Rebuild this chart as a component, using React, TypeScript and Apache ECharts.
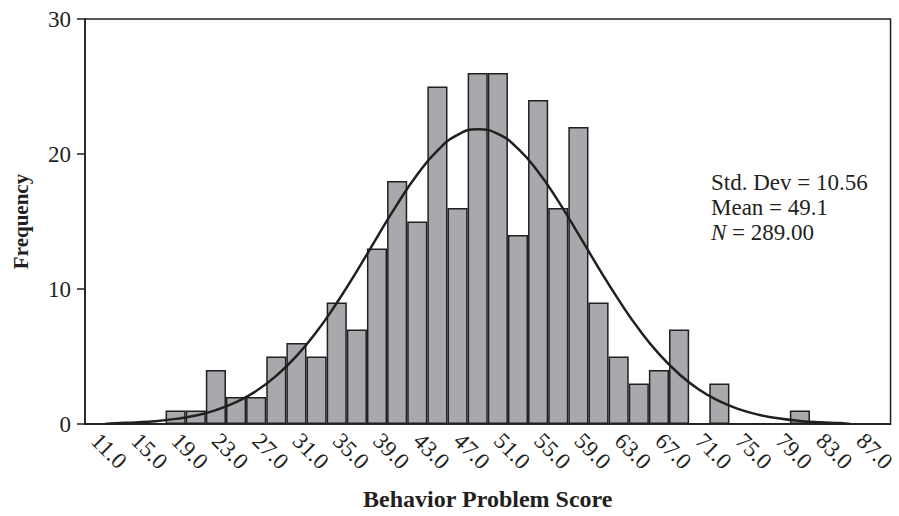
import React, { useEffect, useRef } from "react";
import * as echarts from "echarts";

// Bin midpoints (bin width 2)
const binMids = [11, 13, 15, 17, 19, 21, 23, 25, 27, 29, 31, 33, 35, 37, 39, 41, 43, 45, 47, 49, 51, 53, 55, 57, 59, 61, 63, 65, 67, 69, 71, 73, 75, 77, 79, 81, 83, 85, 87, 89];
const binLabels = binMids.map((v) => v.toFixed(1));
const frequencies = [0, 0, 0, 0, 1, 1, 4, 2, 2, 5, 6, 5, 9, 7, 13, 18, 15, 25, 16, 26, 26, 14, 24, 16, 22, 9, 5, 3, 4, 7, 0, 3, 0, 0, 0, 1, 0, 0, 0, 0];

// Fitted normal curve
const curveX = [12, 13, 15, 17, 19, 21, 23, 25, 27, 29, 31, 33, 35, 37, 39, 41, 43, 45, 47, 49, 51, 53, 55, 57, 59, 61, 63, 65, 67, 69, 71, 73, 75, 77, 79, 81, 83, 85, 86];
const curveY = [0.0, 0.06, 0.12, 0.21, 0.38, 0.63, 1.03, 1.62, 2.44, 3.57, 5.03, 6.83, 8.96, 11.33, 13.83, 16.27, 18.48, 20.25, 21.41, 21.84, 21.49, 20.4, 18.68, 16.51, 14.07, 11.57, 9.19, 7.03, 5.19, 3.7, 2.54, 1.69, 1.08, 0.67, 0.4, 0.23, 0.13, 0.07, 0.0];

const yTicks = [0, 10, 20, 30];
const statLines = ["Std. Dev = 10.56", "Mean = 49.1", "= 289.00"];

const INK = "#231f20";
const FONT = "'Liberation Serif', 'Times New Roman', serif";

export default function App() {
  const ref = useRef<HTMLDivElement>(null);
  useEffect(() => {
    if (!ref.current) return;
    const chart = echarts.init(ref.current, null, { renderer: "svg" });
    chart.setOption({
      animation: false,
      backgroundColor: "#ffffff",
      grid: {
        left: 85,
        right: 4,
        top: 19,
        bottom: 87,
        show: true,
        borderColor: INK,
        borderWidth: 1.5,
        backgroundColor: "transparent",
      },
      xAxis: [
        {
          type: "category",
          data: binLabels,
          boundaryGap: true,
          name: "Behavior Problem Score",
          nameLocation: "middle",
          nameGap: 63,
          nameTextStyle: { fontFamily: FONT, fontWeight: "bold", fontSize: 24, color: INK },
          axisLine: { lineStyle: { color: INK, width: 1.5 } },
          axisTick: { alignWithLabel: true, interval: 0, length: 7, lineStyle: { color: INK, width: 1.5 } },
          axisLabel: {
            interval: 1,
            rotate: -45,
            margin: 13,
            fontFamily: FONT,
            fontSize: 23,
            color: INK,
          },
          splitLine: { show: false },
        },
        {
          type: "value",
          min: 10,
          max: 90,
          show: false,
        },
      ],
      yAxis: {
        type: "value",
        min: yTicks[0],
        max: yTicks[yTicks.length - 1],
        interval: 10,
        name: "Frequency",
        nameLocation: "middle",
        nameGap: 54,
        nameRotate: 90,
        nameTextStyle: { fontFamily: FONT, fontWeight: "bold", fontSize: 21, color: INK },
        axisLine: { show: true, lineStyle: { color: INK, width: 1.5 } },
        axisTick: { show: true, length: 8, lineStyle: { color: INK, width: 1.5 } },
        axisLabel: { fontFamily: FONT, fontSize: 23, color: INK, margin: 14 },
        splitLine: { show: false },
      },
      series: [
        {
          type: "bar",
          data: frequencies,
          barCategoryGap: "0%",
          itemStyle: { color: "#a7a9ac", borderColor: INK, borderWidth: 1.5 },
        },
        {
          type: "line",
          xAxisIndex: 1,
          data: curveX.map((x, i) => [x, curveY[i]]),
          smooth: true,
          showSymbol: false,
          lineStyle: { color: INK, width: 2.5 },
          z: 5,
        },
      ],
      graphic: [
        {
          type: "text",
          left: 711,
          top: 170,
          style: {
            text: `${statLines[0]}\n${statLines[1]}\n{i|N} ${statLines[2]}`,
            fontFamily: FONT,
            fontSize: 23,
            lineHeight: 25,
            fill: INK,
            rich: {
              i: { fontFamily: FONT, fontSize: 23, fontStyle: "italic", fill: INK, lineHeight: 25 },
            },
          },
        },
      ],
    });
    return () => chart.dispose();
  }, []);
  return (
    <div
      ref={ref}
      style={{ position: "fixed", left: 0, top: 0, width: 899, height: 516, background: "#fff" }}
    />
  );
}
